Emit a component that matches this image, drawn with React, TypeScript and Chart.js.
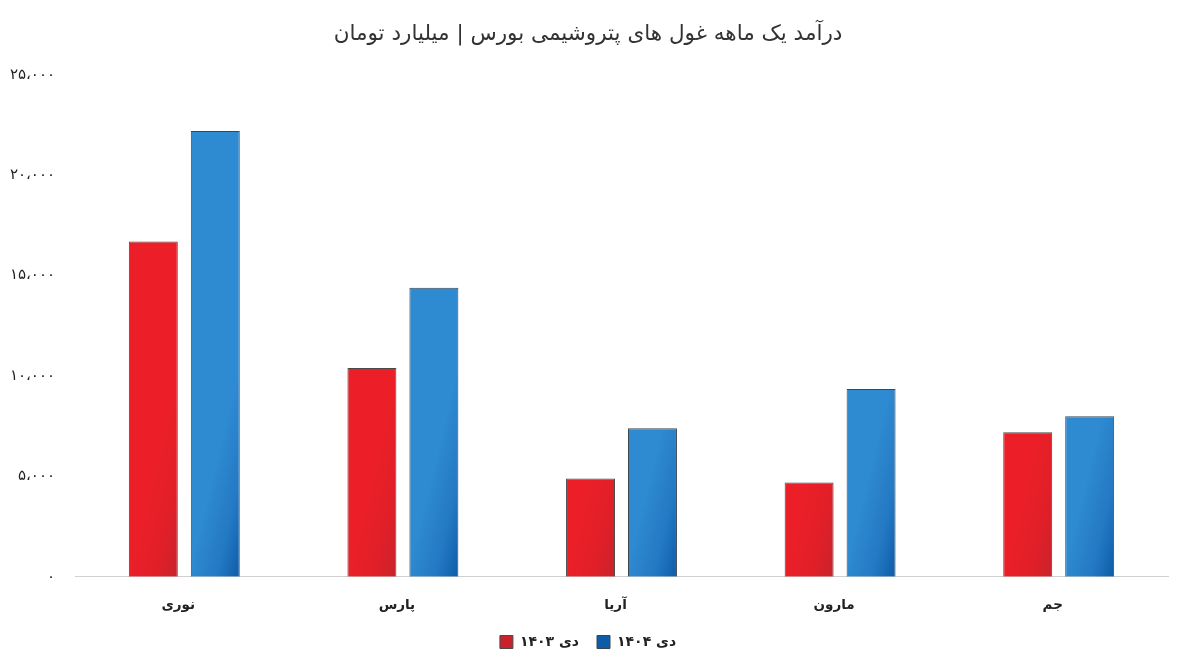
import React, { useEffect, useRef } from "react";
import { Chart, registerables } from "chart.js";

Chart.register(...registerables);

const categories = ["نوری", "پارس", "آریا", "مارون", "جم"];
const series1403 = [16700, 10400, 4900, 4700, 7200];
const series1404 = [22200, 14400, 7400, 9350, 8000];
const seriesLabels = ["دی ۱۴۰۳", "دی ۱۴۰۴"];
const titleText = "درآمد یک ماهه غول های پتروشیمی بورس | میلیارد تومان";
const yMax = 25000;
const yStep = 5000;

const FONT = "'DejaVu Sans', 'Noto Sans', sans-serif";

const toPersian = (n: number) => {
  const s = Math.round(n).toString().replace(/\B(?=(\d{3})+(?!\d))/g, "،");
  return s.replace(/\d/g, (d) => "۰۱۲۳۴۵۶۷۸۹"[Number(d)]);
};

const palette = [
  { solid: "#e31f28", light: "#ec1f28", mid: "#e11f28", dark: "#c8232c" },
  { solid: "#2a82cb", light: "#2e8ad1", mid: "#2479c3", dark: "#0d5ca8" },
];

const CAT_PCT = 0.567;
const BAR_PCT = 0.79;

const makeBg = (dsIndex: number) => (ctx: any) => {
  const p = palette[dsIndex];
  const chart = ctx.chart;
  if (ctx.type !== "data" || !chart.chartArea || !chart.scales?.x) return p.solid;
  const xs = chart.scales.x;
  const ys = chart.scales.y;
  const center = xs.getPixelForValue(ctx.dataIndex);
  const catW = xs.width / categories.length;
  const slot = (catW * CAT_PCT) / 2;
  const cx = center + (dsIndex === 0 ? -slot / 2 : slot / 2);
  const half = (slot * BAR_PCT) / 2;
  const bottom = ys.getPixelForValue(0);
  const g = chart.ctx.createLinearGradient(cx - half, bottom - 12, cx + half, bottom);
  g.addColorStop(0, p.light);
  g.addColorStop(0.55, p.mid);
  g.addColorStop(1, p.dark);
  return g;
};

export default function App() {
  const ref = useRef<HTMLCanvasElement | null>(null);

  useEffect(() => {
    document.body.style.margin = "0";
    document.body.style.background = "#ffffff";
    if (!ref.current) return;
    const chart = new Chart(ref.current, {
      type: "bar",
      data: {
        labels: categories,
        datasets: [
          {
            label: seriesLabels[0],
            data: series1403,
            backgroundColor: makeBg(0),
            borderColor: "#4a4a4a",
            borderWidth: 1,
            categoryPercentage: CAT_PCT,
            barPercentage: BAR_PCT,
          },
          {
            label: seriesLabels[1],
            data: series1404,
            backgroundColor: makeBg(1),
            borderColor: "#3a4650",
            borderWidth: 1,
            categoryPercentage: CAT_PCT,
            barPercentage: BAR_PCT,
          },
        ],
      },
      options: {
        animation: false,
        responsive: false,
        maintainAspectRatio: false,
        layout: { padding: { left: 8, right: 13, top: 0, bottom: 6 } },
        plugins: {
          title: {
            display: true,
            text: titleText,
            color: "#333333",
            font: { family: FONT, size: 21.5, weight: "normal" },
            padding: { top: 22, bottom: 27 },
          },
          legend: {
            display: true,
            position: "bottom",
            labels: {
              color: "#222222",
              font: { family: FONT, size: 14, weight: "bold" },
              boxWidth: 13,
              boxHeight: 13,
              padding: 18,
            },
          },
          tooltip: { enabled: false },
        },
        scales: {
          x: {
            grid: { display: false },
            border: { display: true, color: "#d0d0d0", width: 1 },
            afterFit: (s: any) => {
              s.height = s.height - 10;
            },
            ticks: {
              color: "#222222",
              font: { family: FONT, size: 13.5, weight: "bold" },
              padding: 13,
              labelOffset: -6,
            },
          },
          y: {
            min: 0,
            max: yMax,
            grid: { display: false, drawTicks: false },
            border: { display: false },
            afterFit: (s: any) => {
              s.width = 67;
            },
            ticks: {
              stepSize: yStep,
              color: "#222222",
              font: { family: FONT, size: 15 },
              padding: 20,
              callback: (v: any) => toPersian(Number(v)),
            },
          },
        },
      },
    });
    return () => chart.destroy();
  }, []);

  return (
    <div style={{ position: "absolute", left: 0, top: 0, width: 1181, height: 665 }}>
      <canvas ref={ref} width={1181} height={665} style={{ width: 1181, height: 665 }} />
    </div>
  );
}
